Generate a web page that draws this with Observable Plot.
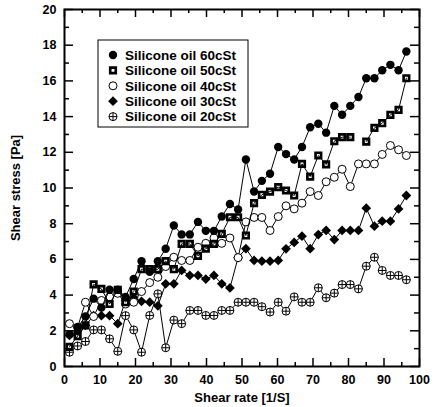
<!DOCTYPE html>
<html>
<head>
<meta charset="utf-8">
<script src="https://cdn.jsdelivr.net/npm/d3@7"></script>
<script src="https://cdn.jsdelivr.net/npm/@observablehq/plot@0.6"></script>
<style>
  html, body { margin: 0; padding: 0; background: #fff; }
</style>
</head>
<body>
<div id="chart"></div>
<script>
// ---- data ----
const shearRate = [1.4,3.7,5.9,8.2,10.4,12.7,15.0,17.2,19.5,21.7,24.0,26.3,28.5,30.8,33.0,35.3,37.6,39.8,42.1,44.3,46.6,48.9,51.1,53.4,55.6,57.9,60.2,62.4,64.7,66.9,69.2,71.5,73.7,76.0,78.2,80.5,82.8,85.0,87.3,89.5,91.8,94.1,96.3];
const stress60 = [1.8,2.2,2.8,3.8,3.3,4.3,4.3,3.9,4.9,5.9,5.3,5.9,6.6,7.9,7.4,7.4,8.1,7.6,7.6,8.4,9.1,8.8,11.6,9.8,10.4,10.8,12.3,11.9,11.6,12.3,13.4,13.6,13.1,14.6,14.1,14.6,15.1,16.15,16.15,16.6,16.9,16.6,17.65];
const stress50 = [1.1,1.7,2.3,4.6,4.35,3.5,4.3,3.6,4.2,5.45,5.45,5.45,5.9,5.45,6.87,6.87,6.2,6.6,6.87,7.43,8.36,8.36,7.34,9.15,9.62,9.8,10.05,9.86,9.58,11.35,10.64,11.82,11.32,12.62,12.85,12.85,null,12.6,13.37,13.63,14.1,14.38,16.15];
const stress40 = [2.4,2.2,3.6,2.8,3.7,3.9,4.1,3.5,3.6,4.2,4.7,5.0,5.6,6.12,5.94,5.94,6.68,6.9,7.2,6.9,7.2,6.1,8.1,8.35,8.35,7.62,8.4,9.0,8.83,9.15,9.8,9.58,10.35,10.6,11.05,10.08,11.35,11.35,11.35,11.88,12.38,12.14,11.82];
const stress30 = [1.74,2.0,2.3,2.85,2.85,2.85,2.4,3.7,3.85,3.65,3.6,3.4,4.63,4.63,5.38,5.1,5.1,4.9,5.1,4.63,4.4,6.1,6.6,5.94,5.9,5.9,5.94,6.59,6.95,7.3,6.6,7.39,7.62,7.11,7.62,7.62,7.62,8.87,7.86,8.14,8.14,8.83,9.58];
const stress20 = [0.8,1.15,1.4,2.05,2.05,1.55,0.85,2.85,2.05,0.8,2.86,4.07,1.05,2.6,2.4,3.14,3.14,2.86,2.86,3.14,3.14,3.6,3.6,3.6,3.35,3.05,3.6,3.1,3.9,3.6,3.6,4.41,3.85,4.11,4.59,4.59,4.35,5.62,6.12,5.38,5.1,5.1,4.86];

const seriesNames = ["Silicone oil 60cSt","Silicone oil 50cSt","Silicone oil 40cSt","Silicone oil 30cSt","Silicone oil 20cSt"];
const xTicks = [0,10,20,30,40,50,60,70,80,90,100];
const xMinor = [5,15,25,35,45,55,65,75,85,95];
const yTicks = [0,2,4,6,8,10,12,14,16,18,20];
const yMinor = [1,3,5,7,9,11,13,15,17,19];
const xLabel = "Shear rate [1/S]";
const yLabel = "Shear stress [Pa]";

// ---- symbols ----
const squareHole = {
  draw(ctx, size) {
    const h = Math.sqrt(size) * 0.55;
    const i = h * 0.35;
    ctx.moveTo(-h, -h); ctx.lineTo(h, -h); ctx.lineTo(h, h); ctx.lineTo(-h, h); ctx.closePath();
    ctx.moveTo(-i, -i); ctx.lineTo(-i, i); ctx.lineTo(i, i); ctx.lineTo(i, -i); ctx.closePath();
  }
};
const crossCircle = {
  draw(ctx, size) {
    const r = Math.sqrt(size / Math.PI);
    ctx.moveTo(r, 0); ctx.arc(0, 0, r, 0, 2 * Math.PI);
    ctx.moveTo(-r, 0); ctx.lineTo(r, 0);
    ctx.moveTo(0, -r); ctx.lineTo(0, r);
  }
};

const styles = [
  {values: stress60, symbol: "circle", fill: "black", stroke: "none", r: 4.2},
  {values: stress50, symbol: squareHole, fill: "black", stroke: "none", r: 4.2},
  {values: stress40, symbol: "circle", fill: "white", stroke: "black", r: 4},
  {values: stress30, symbol: "diamond2", fill: "black", stroke: "none", r: 4.4},
  {values: stress20, symbol: crossCircle, fill: "white", stroke: "black", r: 4}
];

const W = 435, H = 407;
const mL = 64, mR = 16, mT = 9, mB = 41;
const pW = W - mL - mR, pH = H - mT - mB;

const seriesMarks = [];
styles.slice().reverse().forEach(s => {
  const rows = shearRate.map((x, i) => ({x, y: s.values[i]}));
  seriesMarks.push(Plot.line(rows, {x: "x", y: "y", stroke: "black", strokeWidth: 1}));
  seriesMarks.push(Plot.dot(rows.filter(d => d.y != null), {x: "x", y: "y", symbol: () => s.symbol, fill: s.fill, stroke: s.stroke, strokeWidth: 1, r: s.r}));
});

const chart = Plot.plot({
  width: W, height: H,
  marginLeft: mL, marginRight: mR, marginTop: mT, marginBottom: mB,
  x: {domain: [0, 100]},
  y: {domain: [0, 20]},
  symbol: {type: "identity"},
  style: {fontFamily: "'Liberation Sans', Arial, sans-serif", fontSize: "12px", fontWeight: "bold", color: "black", background: "white"},
  marks: [
    ...seriesMarks,
    Plot.ruleX(xTicks, {insetTop: pH - 8, stroke: "black", strokeWidth: 1.5}),
    Plot.ruleX(xMinor, {insetTop: pH - 4, stroke: "black", strokeWidth: 1.5}),
    Plot.ruleX(xTicks, {insetBottom: pH - 8, stroke: "black", strokeWidth: 1.5}),
    Plot.ruleX(xMinor, {insetBottom: pH - 4, stroke: "black", strokeWidth: 1.5}),
    Plot.ruleY(yTicks, {insetRight: pW - 9, stroke: "black", strokeWidth: 1.5}),
    Plot.ruleY(yMinor, {insetRight: pW - 5, stroke: "black", strokeWidth: 1.5}),
    Plot.ruleY(yTicks, {insetLeft: pW - 9, stroke: "black", strokeWidth: 1.5}),
    Plot.ruleY(yMinor, {insetLeft: pW - 5, stroke: "black", strokeWidth: 1.5}),
    Plot.frame({stroke: "black", strokeWidth: 2}),
    Plot.axisX(xTicks, {tickSize: 0, tickPadding: 9, fontSize: 12.5, fontWeight: "bold", label: null}),
    Plot.axisY(yTicks, {tickSize: 0, tickPadding: 8, fontSize: 12.5, fontWeight: "bold", label: null}),
    Plot.text([xLabel], {frameAnchor: "bottom", dy: 31, text: d => d, textAnchor: "middle", lineAnchor: "middle", fontSize: 13, fontWeight: "bold"}),
    Plot.text([yLabel], {frameAnchor: "left", dx: -49, text: d => d, rotate: -90, textAnchor: "middle", lineAnchor: "middle", fontSize: 13, fontWeight: "bold"})
  ]
});

document.getElementById("chart").appendChild(chart);

// ---- legend ----
const svg = d3.select(chart);
const lg = svg.append("g").attr("class", "legend").attr("text-anchor", "start");
const box = {x: 98, y: 40, w: 150, h: 87};
lg.append("rect").attr("x", box.x).attr("y", box.y).attr("width", box.w).attr("height", box.h)
  .attr("fill", "white").attr("stroke", "black").attr("stroke-width", 1);
seriesNames.forEach((name, i) => {
  const s = styles[i];
  const cy = box.y + 15 + i * 15.4;
  const sym = typeof s.symbol === "string" ? ({circle: d3.symbolCircle, diamond2: d3.symbolDiamond2})[s.symbol] : s.symbol;
  lg.append("path")
    .attr("transform", `translate(${box.x + 15},${cy})`)
    .attr("d", d3.symbol(sym, Math.PI * s.r * s.r)())
    .attr("fill", s.fill).attr("stroke", s.stroke).attr("stroke-width", 1);
  lg.append("text").attr("x", box.x + 27).attr("y", cy).attr("dy", "0.35em")
    .attr("text-anchor", "start")
    .attr("font-size", 13.5).attr("font-weight", "bold").attr("fill", "black")
    .text(name);
});
</script>
</body>
</html>
